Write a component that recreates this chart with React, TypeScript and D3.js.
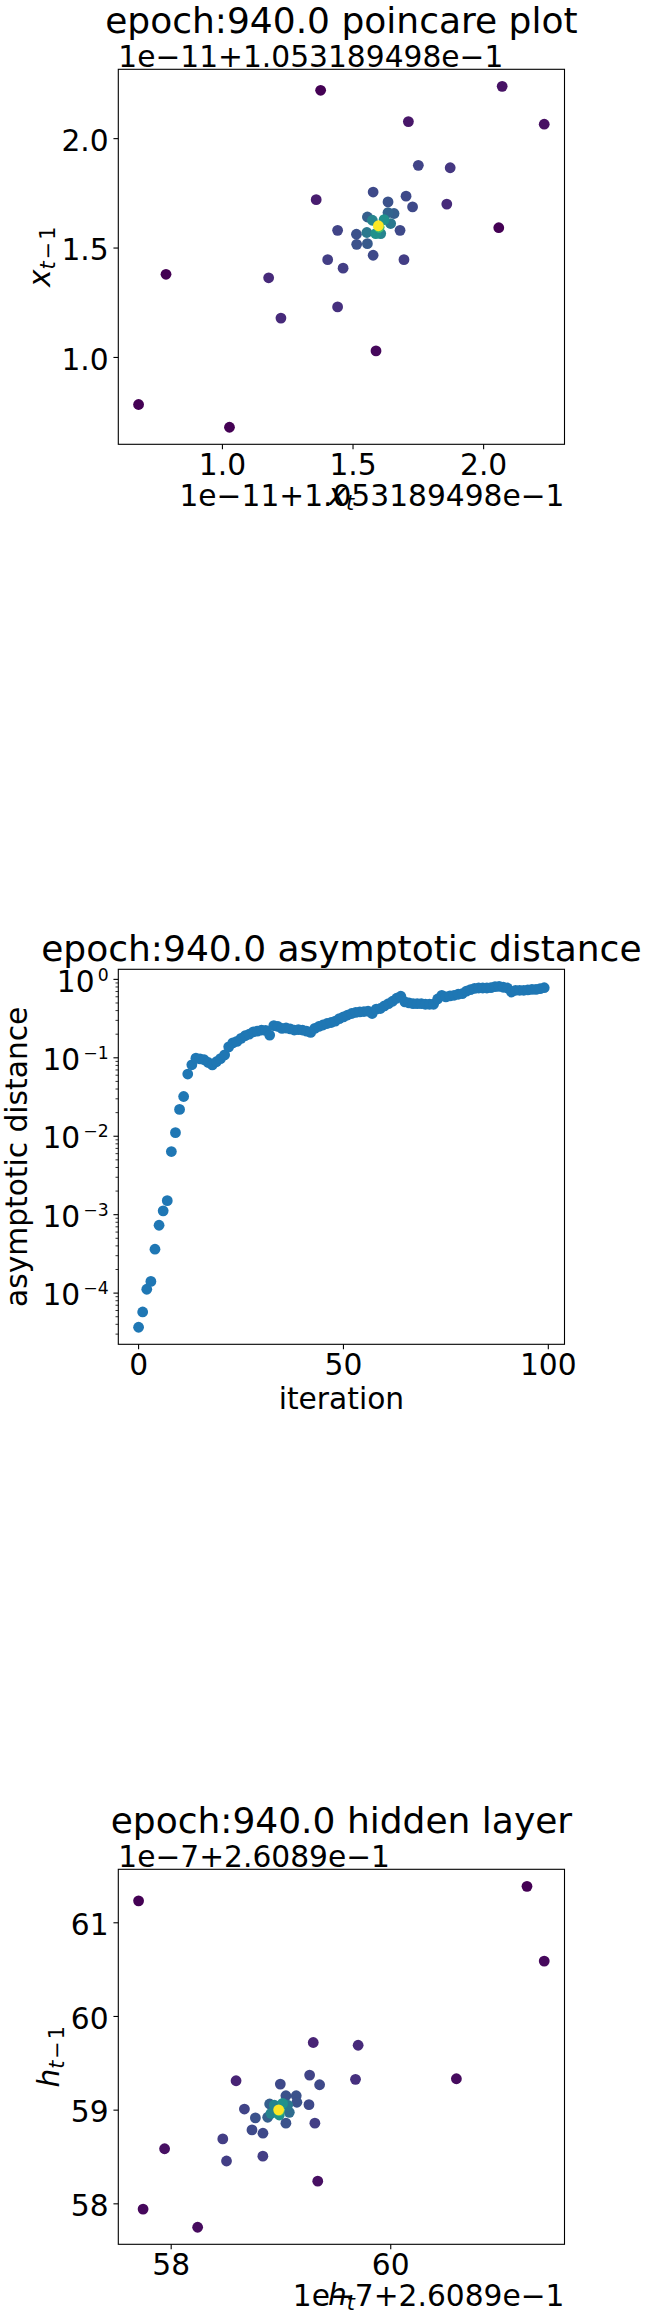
import React, { useEffect, useRef } from 'react';
import * as d3 from 'd3';

// ---- data ----
const titles = ['epoch:940.0 poincare plot', 'epoch:940.0 asymptotic distance', 'epoch:940.0 hidden layer'];
const poincareOffset = '1e\u221211+1.053189498e\u22121';
const hiddenOffset = '1e\u22127+2.6089e\u22121';

const poincareXt = [1.376, 2.071, 1.712, 2.232, 2.058, 0.784, 1.588, 0.679, 1.027, 1.359, 1.177, 1.224, 1.441, 1.859, 1.872, 1.750, 1.577, 1.703, 1.728, 1.634, 1.441, 1.680, 1.513, 1.514, 1.555, 1.577, 1.695, 1.403, 1.462, 1.555, 1.634, 1.657, 1.644, 1.553, 1.574, 1.619, 1.606, 1.587, 1.600, 1.597];
const poincareXPrev = [2.221, 2.239, 2.078, 2.066, 1.593, 1.380, 1.030, 0.785, 0.681, 1.721, 1.364, 1.180, 1.231, 1.701, 1.867, 1.878, 1.756, 1.737, 1.688, 1.711, 1.581, 1.581, 1.563, 1.517, 1.520, 1.467, 1.447, 1.447, 1.408, 1.642, 1.662, 1.658, 1.612, 1.571, 1.627, 1.630, 1.566, 1.566, 1.595, 1.602];
const poincareDensity = [0.0, 0.05, 0.06, 0.04, 0.0, 0.0, 0.02, 0.0, 0.0, 0.08, 0.12, 0.12, 0.14, 0.12, 0.16, 0.2, 0.22, 0.22, 0.22, 0.25, 0.2, 0.22, 0.25, 0.25, 0.28, 0.22, 0.18, 0.18, 0.18, 0.3, 0.32, 0.3, 0.4, 0.4, 0.45, 0.5, 0.45, 0.5, 0.7, 1.0];
const poincareTicks = [1.0, 1.5, 2.0];

const distance = [
  3.67e-5, 5.75e-5, 1.12e-4, 1.41e-4, 3.63e-4, 7.33e-4, 1.12e-3, 1.51e-3, 6.38e-3, 1.11e-2,
  2.20e-2, 3.21e-2, 0.0621, 0.0815, 0.0989, 0.0970, 0.0944, 0.0871, 0.0813, 0.0891,
  0.0977, 0.109, 0.138, 0.155, 0.162, 0.177, 0.191, 0.200, 0.214, 0.219,
  0.226, 0.224, 0.195, 0.257, 0.251, 0.237, 0.240, 0.234, 0.226, 0.229,
  0.226, 0.219, 0.211, 0.237, 0.251, 0.262, 0.274, 0.282, 0.294, 0.316,
  0.333, 0.351, 0.367, 0.380, 0.385, 0.389, 0.394, 0.367, 0.417, 0.425,
  0.459, 0.490, 0.526, 0.575, 0.610, 0.516, 0.501, 0.490, 0.490, 0.490,
  0.482, 0.482, 0.482, 0.562, 0.627, 0.597, 0.617, 0.627, 0.646, 0.658,
  0.708, 0.740, 0.767, 0.776, 0.776, 0.776, 0.785, 0.809, 0.815, 0.794,
  0.776, 0.690, 0.726, 0.726, 0.726, 0.733, 0.746, 0.746, 0.762, 0.783,
];
const iterTicks = [0, 50, 100];
const distExponents = [-4, -3, -2, -1, 0];

const hiddenHt = [57.703, 61.241, 61.398, 60.598, 59.335, 57.940, 57.744, 58.241, 59.294, 59.703, 58.591, 59.679, 59.261, 59.352, 58.994, 59.045, 59.139, 59.145, 58.897, 59.255, 58.667, 59.076, 58.767, 58.879, 59.045, 59.309, 58.736, 58.836, 58.470, 58.504, 58.835, 58.939, 59.015, 58.909, 58.985, 59.061, 58.985, 58.979];
const hiddenHPrev = [61.234, 61.389, 60.591, 59.335, 58.242, 58.588, 57.944, 57.750, 59.722, 59.693, 59.314, 59.329, 59.374, 59.271, 59.278, 59.154, 59.154, 59.084, 59.066, 59.059, 59.012, 58.977, 58.917, 58.924, 58.861, 58.861, 58.789, 58.754, 58.693, 58.457, 58.509, 59.054, 59.072, 58.966, 58.948, 59.054, 58.995, 59.003];
const hiddenDensity = [0.0, 0.0, 0.02, 0.03, 0.04, 0.04, 0.02, 0.03, 0.1, 0.12, 0.1, 0.14, 0.2, 0.22, 0.22, 0.25, 0.25, 0.25, 0.3, 0.22, 0.2, 0.35, 0.25, 0.3, 0.25, 0.18, 0.22, 0.22, 0.18, 0.18, 0.18, 0.45, 0.5, 0.45, 0.5, 0.4, 0.7, 1.0];
const hiddenXTicks = [58, 60];
const hiddenYTicks = [58, 59, 60, 61];

// ---- layout ----
const W = 647;
const H = 2323;
const LEFT = 118.3;
const RIGHT = 564.5;
const PH = 375;
const TOPS = [69.3, 969.3, 1869.3];
const FS = 29.7;
const TFS = 36;
const FONT = "'DejaVu Sans', sans-serif";
const TICK = 4.86;

type Part = { t: string; it?: boolean; sub?: boolean; sup?: boolean; dx?: number };

const App: React.FC = () => {
  const svgRef = useRef<SVGSVGElement>(null);

  useEffect(() => {
    if (!svgRef.current) return;
    const svg = d3.select(svgRef.current);
    svg.selectAll('*').remove();
    svg.append('rect').attr('width', W).attr('height', H).attr('fill', '#fff');

    // matplotlib-like 5% margins
    const pad = (vals: number[]): [number, number] => {
      const [lo, hi] = d3.extent(vals) as [number, number];
      const m = (hi - lo) * 0.05;
      return [lo - m, hi + m];
    };

    const text = (x: number, y: number, s: string, anchor: string, size = FS) =>
      svg.append('text')
        .attr('x', x).attr('y', y)
        .attr('text-anchor', anchor)
        .attr('font-family', FONT)
        .attr('font-size', size)
        .attr('fill', '#000')
        .text(s);

    const parts = (el: any, ps: Part[], size: number) => {
      let shift = 0;
      ps.forEach(p => {
        const target = p.sub ? 4.5 : p.sup ? -11 : 0;
        const ts = el.append('tspan').text(p.t)
          .attr('font-size', p.sub ? size * 0.7 : p.sup ? size * 0.58 : size);
        if (p.it) ts.attr('font-style', 'italic');
        if (p.dx) ts.attr('dx', p.dx);
        if (target !== shift) {
          ts.attr('dy', target - shift);
          shift = target;
        }
      });
    };

    const mathLabel = (x: number, y: number, ps: Part[], rotate: boolean) => {
      const el = svg.append('text')
        .attr('transform', `translate(${x},${y})${rotate ? ' rotate(-90)' : ''}`)
        .attr('text-anchor', 'middle')
        .attr('font-family', FONT)
        .attr('font-size', FS)
        .attr('fill', '#000');
      parts(el, ps, FS);
    };

    const frame = (top: number) => {
      svg.append('rect')
        .attr('x', LEFT).attr('y', top)
        .attr('width', RIGHT - LEFT).attr('height', PH)
        .attr('fill', 'none').attr('stroke', '#000').attr('stroke-width', 1.1);
    };

    const xTicks = (xs: any, ticks: number[], bottom: number, fmt: (v: number) => string) => {
      ticks.forEach(v => {
        svg.append('line')
          .attr('x1', xs(v)).attr('x2', xs(v))
          .attr('y1', bottom).attr('y2', bottom + TICK)
          .attr('stroke', '#000').attr('stroke-width', 1.1);
        text(xs(v), bottom + 30.7, fmt(v), 'middle');
      });
    };

    const yTicks = (ys: any, ticks: number[], fmt: (v: number) => string) => {
      ticks.forEach(v => {
        svg.append('line')
          .attr('x1', LEFT - TICK).attr('x2', LEFT)
          .attr('y1', ys(v)).attr('y2', ys(v))
          .attr('stroke', '#000').attr('stroke-width', 1.1);
        text(LEFT - 9.7, ys(v) + 12.2, fmt(v), 'end');
      });
    };

    const density = (
      top: number, xv: number[], yv: number[], dv: number[],
      xt: number[], yt: number[], fmt: (v: number) => string,
      title: string, offset: string, sym: string, ylabX: number,
    ) => {
      const bottom = top + PH;
      const xs = d3.scaleLinear().domain(pad(xv)).range([LEFT, RIGHT]);
      const ys = d3.scaleLinear().domain(pad(yv)).range([bottom, top]);
      const order = d3.range(xv.length).sort((a, b) => dv[a] - dv[b]);
      svg.append('g').selectAll('circle')
        .data(order)
        .join('circle')
        .attr('cx', i => xs(xv[i]))
        .attr('cy', i => ys(yv[i]))
        .attr('r', 5.4)
        .attr('fill', i => d3.interpolateViridis(dv[i]));
      frame(top);
      xTicks(xs, xt, bottom, fmt);
      yTicks(ys, yt, fmt);
      text((LEFT + RIGHT) / 2, top - 36, title, 'middle', TFS);
      text(LEFT, top - 2, offset, 'start');
      text(RIGHT, bottom + 62, offset, 'end');
      mathLabel((LEFT + RIGHT) / 2, bottom + 61, [{ t: sym, it: true }, { t: 't', it: true, sub: true }], false);
      mathLabel(ylabX, top + PH / 2, [
        { t: sym, it: true },
        { t: 't', it: true, sub: true },
        { t: '\u2212', sub: true, dx: 2 },
        { t: '1', sub: true, dx: 2 },
      ], true);
    };

    // panel 1: poincare plot
    density(TOPS[0], poincareXt, poincareXPrev, poincareDensity, poincareTicks, poincareTicks,
      d3.format('.1f'), titles[0], poincareOffset, 'x', 50);

    // panel 2: asymptotic distance (log y)
    {
      const top = TOPS[1];
      const bottom = top + PH;
      const idx = distance.map((_, i) => i);
      const xs = d3.scaleLinear().domain(pad(idx)).range([LEFT, RIGHT]);
      const [l0, l1] = pad(distance.map(Math.log10));
      const ys = d3.scaleLog().domain([10 ** l0, 10 ** l1]).range([bottom, top]);

      svg.append('g').selectAll('circle')
        .data(idx)
        .join('circle')
        .attr('cx', i => xs(i))
        .attr('cy', i => ys(distance[i]))
        .attr('r', 5.4)
        .attr('fill', '#1f77b4');

      frame(top);
      xTicks(xs, iterTicks, bottom, d3.format('d'));

      // minor ticks
      const [d0, d1] = ys.domain();
      for (let k = -6; k <= 1; k++) {
        for (let m = 2; m <= 9; m++) {
          const v = m * 10 ** k;
          if (v < d0 || v > d1) continue;
          svg.append('line')
            .attr('x1', LEFT - 2.8).attr('x2', LEFT)
            .attr('y1', ys(v)).attr('y2', ys(v))
            .attr('stroke', '#000').attr('stroke-width', 0.8);
        }
      }
      distExponents.forEach(e => {
        const y = ys(10 ** e);
        svg.append('line')
          .attr('x1', LEFT - TICK).attr('x2', LEFT)
          .attr('y1', y).attr('y2', y)
          .attr('stroke', '#000').attr('stroke-width', 1.1);
        const el = svg.append('text')
          .attr('x', LEFT - 9.7).attr('y', y + 12.2)
          .attr('text-anchor', 'end')
          .attr('font-family', FONT)
          .attr('font-size', FS)
          .attr('fill', '#000');
        parts(el, [{ t: '10' }, { t: e < 0 ? `\u2212${-e}` : `${e}`, sup: true, dx: 3 }], FS);
      });

      text((LEFT + RIGHT) / 2, top - 8.3, titles[1], 'middle', TFS);
      text((LEFT + RIGHT) / 2, bottom + 64.2, 'iteration', 'middle');
      svg.append('text')
        .attr('transform', `translate(26.7,${top + PH / 2}) rotate(-90)`)
        .attr('text-anchor', 'middle')
        .attr('font-family', FONT)
        .attr('font-size', FS)
        .attr('fill', '#000')
        .text('asymptotic distance');
    }

    // panel 3: hidden layer
    density(TOPS[2], hiddenHt, hiddenHPrev, hiddenDensity, hiddenXTicks, hiddenYTicks,
      d3.format('d'), titles[2], hiddenOffset, 'h', 59);
  }, []);

  return (
    <svg
      ref={svgRef}
      width={W}
      height={H}
      style={{ position: 'absolute', left: 0, top: 0, display: 'block' }}
    />
  );
};

export default App;
